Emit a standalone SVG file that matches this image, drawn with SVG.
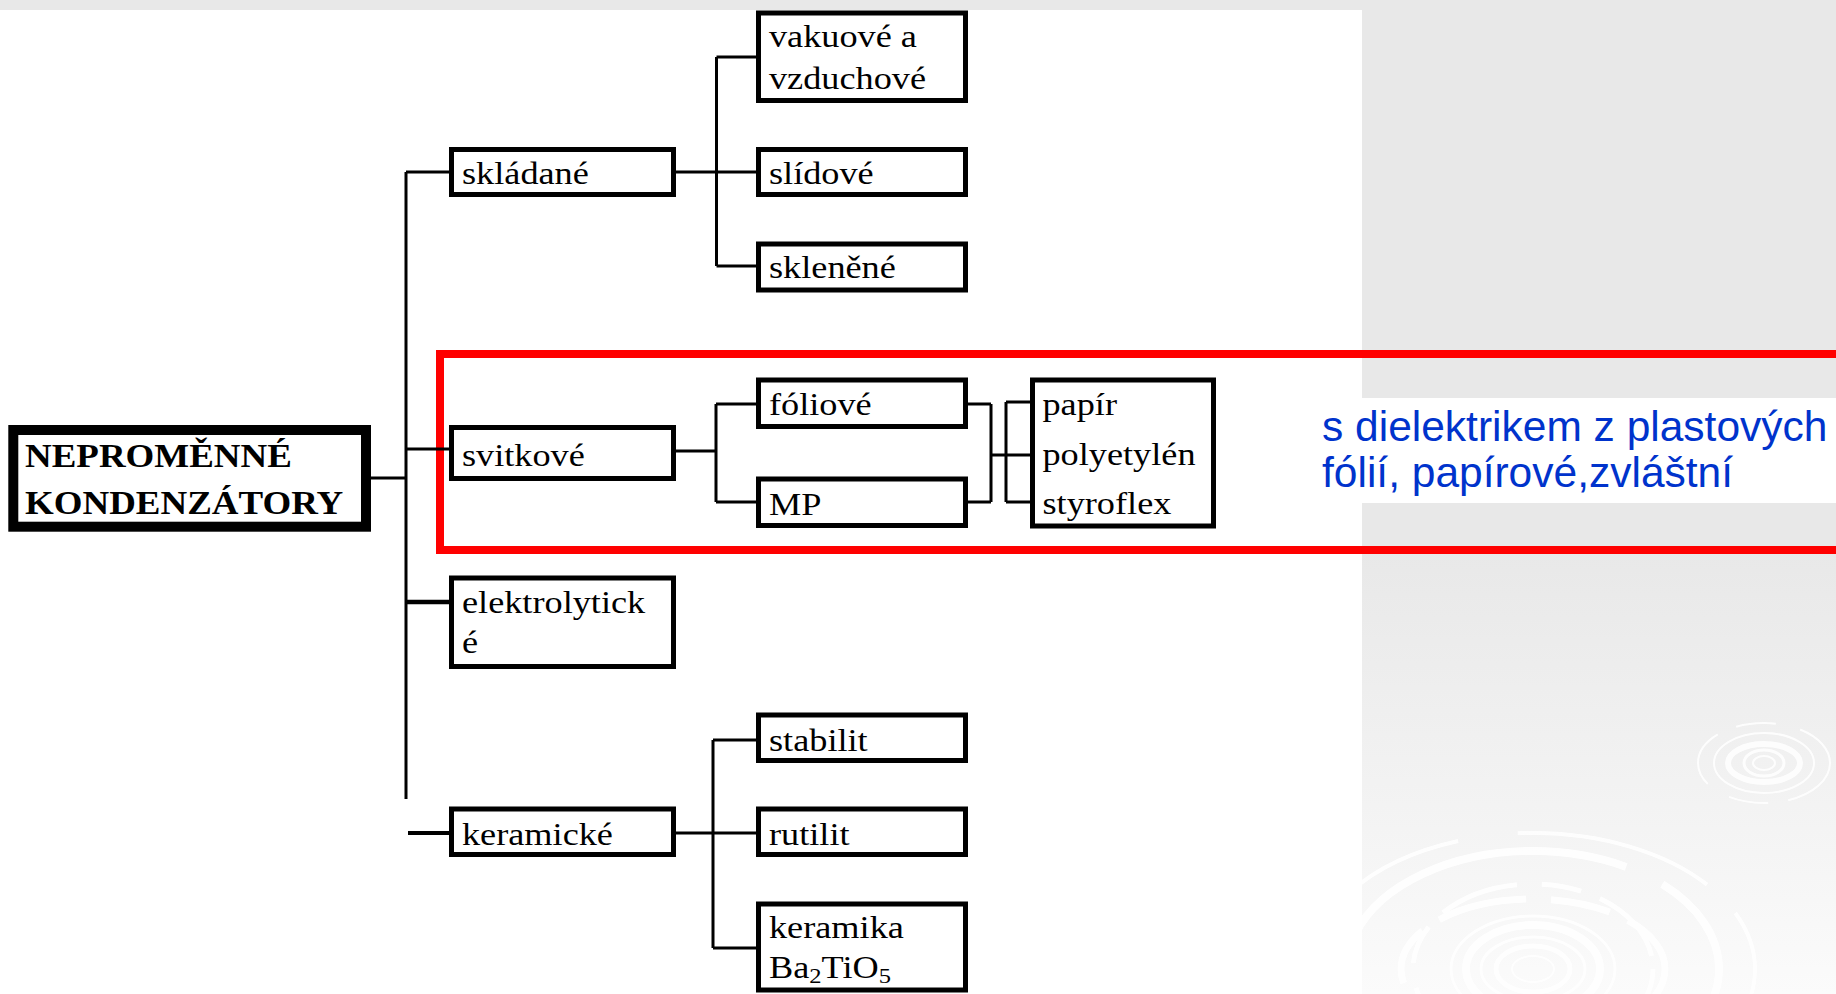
<svg xmlns="http://www.w3.org/2000/svg" width="1836" height="994" viewBox="0 0 1836 994">
<defs>
<linearGradient id="bg" x1="0" y1="0" x2="0" y2="1">
<stop offset="0" stop-color="#e8e8e8"/>
<stop offset="0.55" stop-color="#e8e8e8"/>
<stop offset="1" stop-color="#fbfbfb"/>
</linearGradient>
<style>
.box{fill:#fff;stroke:#000;stroke-width:5}
.root{fill:#fff;stroke:#000;stroke-width:10}
.t{font-family:"Liberation Serif","Times New Roman",serif;font-size:31px;fill:#000}
.tb{font-family:"Liberation Serif","Times New Roman",serif;font-size:33px;font-weight:bold;fill:#000}
.c{stroke:#000;stroke-width:3;fill:none}
.note{font-family:"Liberation Sans",Arial,sans-serif;font-size:42.5px;fill:#0033cc}
.sw{fill:none;stroke:#fff}
</style>
</defs>
<g id="background">
<rect x="0" y="0" width="1836" height="994" fill="url(#bg)"/>
<g opacity="0.9">
<ellipse class="sw" cx="1533" cy="969" rx="21" ry="13" fill="#fdfdfd" stroke-width="2"/>
<ellipse class="sw" cx="1533" cy="969" rx="37" ry="23" stroke-width="5"/>
<ellipse class="sw" cx="1533" cy="969" rx="52" ry="32" stroke-width="3"/>
<ellipse class="sw" cx="1533" cy="969" rx="67" ry="44" stroke-width="8"/>
<ellipse class="sw" cx="1533" cy="969" rx="82" ry="53" stroke-width="3"/>
<ellipse class="sw" cx="1533" cy="969" rx="132" ry="70" stroke-width="7" stroke-dasharray="90 25 60 20"/>
<ellipse class="sw" cx="1533" cy="969" rx="120" ry="85" stroke-width="5" stroke-dasharray="40 20 80 25"/>
<ellipse class="sw" cx="1533" cy="969" rx="186" ry="118" stroke-width="8" stroke-dasharray="300 40 150 30"/>
<ellipse class="sw" cx="1533" cy="969" rx="222" ry="136" stroke-width="4" stroke-dasharray="200 40 120 60"/>
<ellipse class="sw" cx="1764" cy="763" rx="11" ry="7" fill="#fdfdfd" stroke-width="2"/>
<ellipse class="sw" cx="1764" cy="763" rx="20" ry="13" stroke-width="3"/>
<ellipse class="sw" cx="1764" cy="763" rx="36" ry="19" stroke-width="6"/>
<ellipse class="sw" cx="1764" cy="763" rx="50" ry="30" stroke-width="2"/>
<ellipse class="sw" cx="1764" cy="763" rx="66" ry="40" stroke-width="2" stroke-dasharray="60 20 40 25"/>
</g>
<rect x="0" y="10" width="1362" height="984" fill="#fff"/>
<rect x="1310" y="398" width="526" height="105" fill="#fff"/>
</g>
<rect id="highlight" x="440" y="354" width="1500" height="196" fill="none" stroke="#ff0000" stroke-width="8"/>
<g id="connectors">
<path class="c" d="M371,478 H406"/>
<path class="c" d="M406,172 V799"/>
<path class="c" d="M406,172 H451"/>
<path class="c" d="M406,449 H451"/>
<path class="c" d="M406,602 H451" style="stroke-width:4.5"/>
<path class="c" d="M408,833 H451" style="stroke-width:4"/>
<path class="c" d="M674,172 H758 M716.5,57 V266 M716.5,57 H758 M716.5,266 H758"/>
<path class="c" d="M674,451 H716 M716,404 V502 M716,404 H758 M716,502 H758"/>
<path class="c" d="M966,404 H991 M966,502 H991 M991,404 V502 M991,455 H1006 M1006,402 V502 M1006,402 H1033 M1006,455 H1033 M1006,502 H1033"/>
<path class="c" d="M674,833 H758 M713,740 V948 M713,740 H758 M713,948 H758"/>
</g>
<g id="node-root">
<rect class="root" x="13.3" y="430" width="352.7" height="96.7"/>
<text class="tb" transform="translate(25,466.7) scale(1.12,1)">NEPROMĚNNÉ</text>
<text class="tb" transform="translate(25,513.5) scale(1.12,1)">KONDENZÁTORY</text>
</g>
<g id="node-skladane">
<rect class="box" x="451.5" y="149.5" width="222" height="45"/>
<text class="t" transform="translate(462,184) scale(1.17,1)">skládané</text>
</g>
<g id="node-svitkove">
<rect class="box" x="451.5" y="427.5" width="222" height="51"/>
<text class="t" transform="translate(462,466) scale(1.17,1)">svitkové</text>
</g>
<g id="node-elektrolyticke">
<rect class="box" x="451.5" y="578" width="222" height="88.5"/>
<text class="t" transform="translate(462,613) scale(1.17,1)">elektrolytick</text>
<text class="t" transform="translate(462,653) scale(1.17,1)">é</text>
</g>
<g id="node-keramicke">
<rect class="box" x="451.5" y="809" width="222" height="45.5"/>
<text class="t" transform="translate(462,845) scale(1.17,1)">keramické</text>
</g>
<g id="node-vakuove">
<rect class="box" x="758.5" y="13" width="207" height="87.5"/>
<text class="t" transform="translate(769,46.7) scale(1.17,1)">vakuové a</text>
<text class="t" transform="translate(769,89) scale(1.17,1)">vzduchové</text>
</g>
<g id="node-slidove">
<rect class="box" x="758.5" y="149.5" width="207" height="45"/>
<text class="t" transform="translate(769,184) scale(1.17,1)">slídové</text>
</g>
<g id="node-sklenene">
<rect class="box" x="758.5" y="244" width="207" height="46"/>
<text class="t" transform="translate(769,278) scale(1.17,1)">skleněné</text>
</g>
<g id="node-foliove">
<rect class="box" x="758.5" y="380" width="207" height="46.5"/>
<text class="t" transform="translate(769,415) scale(1.17,1)">fóliové</text>
</g>
<g id="node-mp">
<rect class="box" x="758.5" y="479" width="207" height="46.5"/>
<text class="t" transform="translate(769,514.5) scale(1.17,1)">MP</text>
</g>
<g id="node-stabilit">
<rect class="box" x="758.5" y="715" width="207" height="45.5"/>
<text class="t" transform="translate(769,750.7) scale(1.17,1)">stabilit</text>
</g>
<g id="node-rutilit">
<rect class="box" x="758.5" y="809" width="207" height="45.5"/>
<text class="t" transform="translate(769,845) scale(1.17,1)">rutilit</text>
</g>
<g id="node-keramika">
<rect class="box" x="758.5" y="904" width="207" height="86"/>
<text class="t" transform="translate(769,938) scale(1.17,1)">keramika</text>
<text class="t" transform="translate(769,978) scale(1.17,1)">Ba<tspan font-size="21" dy="5">2</tspan><tspan dy="-5">TiO</tspan><tspan font-size="21" dy="5">5</tspan></text>
</g>
<g id="node-papir">
<rect class="box" x="1032.5" y="380" width="181" height="146"/>
<text class="t" transform="translate(1042.5,415) scale(1.17,1)">papír</text>
<text class="t" transform="translate(1042.5,465) scale(1.17,1)">polyetylén</text>
<text class="t" transform="translate(1042.5,514) scale(1.17,1)">styroflex</text>
</g>
<g id="note">
<text class="note" x="1322" y="441">s dielektrikem z plastových</text>
<text class="note" x="1322" y="487">fólií, papírové,zvláštní</text>
</g>
</svg>
